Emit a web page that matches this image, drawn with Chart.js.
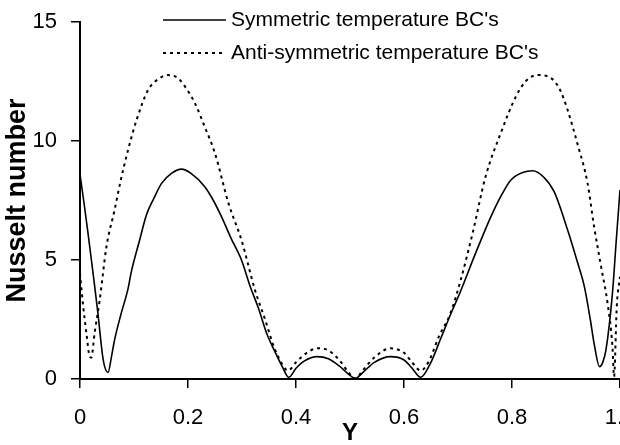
<!DOCTYPE html>
<html>
<head>
<meta charset="utf-8">
<script src="https://cdn.jsdelivr.net/npm/chart.js@4"></script>
<style>
  html, body { margin: 0; padding: 0; background: #fff; }
</style>
</head>
<body>
<canvas id="myChart" width="620" height="445"></canvas>
<script>
const seriesNames = ["Symmetric temperature BC's", "Anti-symmetric temperature BC's"];

// symmetric BC's (solid)
const symX = [0, 0.008, 0.015, 0.025, 0.033, 0.043, 0.052, 0.058, 0.064, 0.075, 0.089, 0.095,
  0.11, 0.123, 0.137, 0.151, 0.17, 0.188, 0.205, 0.231, 0.247, 0.262, 0.28, 0.299, 0.315,
  0.33, 0.346, 0.362, 0.375, 0.3865, 0.4, 0.415, 0.439, 0.46, 0.48, 0.495, 0.51, 0.525,
  0.545, 0.575, 0.6, 0.615, 0.631, 0.649, 0.668, 0.686, 0.705, 0.73, 0.761, 0.78, 0.798,
  0.82, 0.838, 0.858, 0.878, 0.903, 0.92, 0.934, 0.945, 0.952, 0.962, 0.968, 0.974, 0.986,
  0.993, 1];
const symNu = [8.6, 7.3, 6.1, 4.3, 2.8, 0.8, 0.27, 0.9, 1.64, 2.65, 3.8, 4.5,
  5.8, 6.89, 7.6, 8.22, 8.65, 8.82, 8.65, 8.08, 7.5, 6.82, 5.9, 5.0, 3.9,
  3.0, 1.9, 1.1, 0.5, 0.07, 0.45, 0.75, 0.94, 0.85, 0.55, 0.25, 0.03, 0.3,
  0.7, 0.94, 0.8, 0.45, 0.07, 0.66, 1.7, 2.7, 3.7, 5.14, 6.82, 7.7, 8.36,
  8.68, 8.75, 8.5, 7.87, 6.26, 5.0, 3.88, 2.5, 1.5, 0.52, 0.7, 1.22, 3.6,
  5.8, 7.94];

// anti-symmetric BC's (dashed)
const antiX = [0, 0.006, 0.012, 0.018, 0.021, 0.027, 0.0365, 0.049, 0.064, 0.075, 0.089,
  0.105, 0.126, 0.145, 0.163, 0.182, 0.2, 0.213, 0.231, 0.25, 0.275, 0.299, 0.324, 0.343,
  0.36, 0.375, 0.385, 0.4, 0.42, 0.44, 0.46, 0.48, 0.495, 0.51, 0.525, 0.545, 0.575, 0.6,
  0.615, 0.631, 0.645, 0.665, 0.686, 0.705, 0.727, 0.751, 0.779, 0.807, 0.825, 0.847,
  0.873, 0.89, 0.903, 0.921, 0.94, 0.952, 0.965, 0.977, 0.986, 0.989, 0.994, 1];
const antiNu = [4.44, 3.04, 1.9, 0.94, 0.9, 1.92, 3.32, 5.56, 7.1, 8.3, 9.62,
  10.9, 12.14, 12.6, 12.77, 12.63, 12.1, 11.58, 10.6, 9.48, 7.38, 5.84, 3.74, 2.48,
  1.3, 0.6, 0.35, 0.7, 1.1, 1.29, 1.2, 0.8, 0.35, 0.02, 0.4, 0.9, 1.29, 1.1,
  0.7, 0.35, 0.7, 1.8, 2.76, 4.16, 6.12, 8.5, 10.32, 11.86, 12.5, 12.77,
  12.63, 12.1, 11.3, 9.9, 8.22, 6.4, 4.72, 3.18, 1.36, 0.1, 3.04, 4.3];

const xTicks = [0, 0.2, 0.4, 0.6, 0.8, 1];
const yTicks = [0, 5, 10, 15];

const pts = (xs, ys) => xs.map((x, i) => ({ x: x, y: ys[i] }));

// legend drawn inside the plot, top middle
const insideLegend = {
  id: "insideLegend",
  afterDraw(chart) {
    const ctx = chart.ctx;
    ctx.save();
    ctx.font = "21px 'Liberation Sans', Arial, sans-serif";
    ctx.fillStyle = "#000";
    ctx.textBaseline = "middle";
    chart.data.datasets.forEach((ds, i) => {
      const y = 20 + i * 33;
      ctx.beginPath();
      ctx.setLineDash(ds.borderDash || []);
      ctx.lineWidth = ds.borderWidth;
      ctx.strokeStyle = ds.borderColor;
      ctx.moveTo(163, y);
      ctx.lineTo(226, y);
      ctx.stroke();
      ctx.setLineDash([]);
      ctx.fillText(ds.label, 231, y);
    });
    ctx.restore();
  }
};

const tickFont = { family: "'Liberation Sans', Arial, sans-serif", size: 22 };
const titleFont = { family: "'Liberation Sans', Arial, sans-serif", size: 27, weight: "bold" };

const ctx = document.getElementById("myChart").getContext("2d");
const myChart = new Chart(ctx, {
  type: "line",
  data: {
    datasets: [
      {
        label: seriesNames[0],
        data: pts(symX, symNu),
        borderColor: "#000",
        borderWidth: 1.6,
        pointRadius: 0,
        cubicInterpolationMode: "monotone",
        fill: false
      },
      {
        label: seriesNames[1],
        data: pts(antiX, antiNu),
        borderColor: "#000",
        borderWidth: 2,
        borderDash: [3, 4],
        pointRadius: 0,
        cubicInterpolationMode: "monotone",
        fill: false
      }
    ]
  },
  options: {
    responsive: false,
    animation: false,
    layout: { padding: { top: 22, right: 0, bottom: 0, left: 0 } },
    plugins: {
      legend: { display: false },
      tooltip: { enabled: false }
    },
    scales: {
      x: {
        type: "linear",
        min: 0,
        max: 1,
        afterBuildTicks: (s) => { s.ticks = xTicks.map(v => ({ value: v })); },
        afterFit: (s) => { s.height = 66; s.paddingLeft = 0; s.paddingRight = 0; },
        grid: { drawOnChartArea: false, drawTicks: true, tickLength: 9, color: "#000", lineWidth: 1.5 },
        border: { display: true, color: "#000", width: 2 },
        ticks: { font: tickFont, color: "#000", padding: 17, maxRotation: 0 },
        title: { display: true, text: "Y", font: { ...titleFont, size: 24, lineHeight: 1 }, color: "#000", padding: { top: 0, bottom: 0 } }
      },
      y: {
        min: 0,
        max: 15,
        afterBuildTicks: (s) => { s.ticks = yTicks.map(v => ({ value: v })); },
        afterFit: (s) => { s.width = 80; s.paddingTop = 0; s.paddingBottom = 0; },
        grid: { drawOnChartArea: false, drawTicks: true, tickLength: 9, color: "#000", lineWidth: 1.5 },
        border: { display: true, color: "#000", width: 2 },
        ticks: { font: tickFont, color: "#000", padding: 14 },
        title: { display: true, text: "Nusselt number", font: titleFont, color: "#000", padding: { top: 1, bottom: 0 } }
      }
    }
  },
  plugins: [insideLegend]
});
</script>
</body>
</html>
